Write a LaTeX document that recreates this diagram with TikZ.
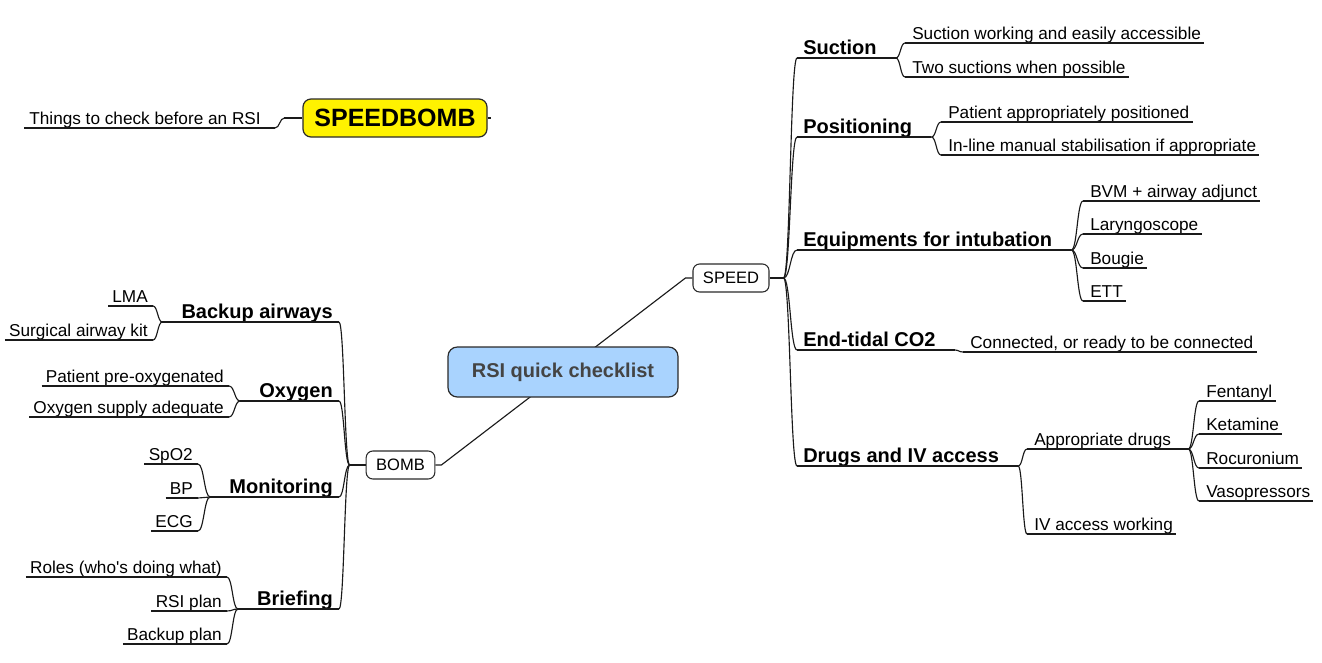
\documentclass[tikz,border=0pt]{standalone}
\usepackage{fontspec}
\setmainfont{Liberation Sans}
\usetikzlibrary{calc,backgrounds}
\definecolor{rootblue}{HTML}{A9D3FE}
\definecolor{roottext}{HTML}{444444}
\definecolor{edgecol}{HTML}{1A1A1A}
\definecolor{boxborder}{HTML}{2A2A2A}
\tikzset{
 lf/.style={font=\fontsize{12.9}{15}\selectfont, inner sep=0pt, anchor=base west},
 lfl/.style={lf, anchor=base east},
 bf/.style={font=\fontsize{15}{18}\selectfont\bfseries, inner sep=0pt, anchor=base west},
 bfl/.style={bf, anchor=base east},
 edge/.style={draw=edgecol, line width=0.85pt},
 box/.style={draw=boxborder, line width=0.8pt, rounded corners=5pt, fill=white,
   font=\fontsize{12.4}{15}\selectfont, minimum height=21pt, inner xsep=7.5pt, inner ysep=0pt},
 rootbox/.style={draw=boxborder, line width=0.9pt, rounded corners=7pt, fill=rootblue,
   text=roottext, font=\fontsize{15}{18}\selectfont\bfseries, minimum width=172.5pt, minimum height=37.5pt},
 sbbox/.style={draw=boxborder, line width=0.9pt, rounded corners=6pt, fill=yellow,
   font=\fontsize{18.75}{22}\selectfont\bfseries, minimum width=138pt, minimum height=28.5pt},
}
% underline of a node: name, pad on the left, pad on the right
\newcommand\ul[3]{%
 \coordinate (#1-l) at ($(#1.base west)+(-#2,4)$);
 \coordinate (#1-r) at ($(#1.base east)+(#3,4)$);
 \draw[edge] (#1-l) -- (#1-r);}
% curved connector between two points
\newcommand\cn[2]{\draw[edge] let \p1=(#1), \p2=(#2) in
  (\p1) .. controls ({0.5*\x1+0.5*\x2},\y1) and ({0.5*\x1+0.5*\x2},\y2) .. (\p2);}
\begin{document}
\begin{tikzpicture}[x=0.75pt,y=-0.75pt]
\useasboundingbox (0,0) rectangle (1322,662);
% central and top nodes
\node[rootbox] (root) at (563,372) {RSI quick checklist};
\node[sbbox] (sb) at (395,118) {SPEEDBOMB};
\node[lfl] (things) at (261,124) {Things to check before an RSI};
% SPEED side
\node[box] (speed) at (731,278) {SPEED};
\node[bf] (suction) at (803,54) {Suction};
\node[bf] (pos) at (803,133) {Positioning};
\node[bf] (equip) at (803,246) {Equipments for intubation};
\node[bf] (etc) at (803,346) {End-tidal CO2};
\node[bf] (drugs) at (803,462) {Drugs and IV access};
\node[lf] (s1) at (912,39) {Suction working and easily accessible};
\node[lf] (s2) at (912,73) {Two suctions when possible};
\node[lf] (p1) at (948,118) {Patient appropriately positioned};
\node[lf] (p2) at (948,151) {In-line manual stabilisation if appropriate};
\node[lf] (e1) at (1090,197) {BVM + airway adjunct};
\node[lf] (e2) at (1090,230) {Laryngoscope};
\node[lf] (e3) at (1090,264) {Bougie};
\node[lf] (e4) at (1090,297) {ETT};
\node[lf] (c1) at (970,348) {Connected, or ready to be connected};
\node[lf] (d1) at (1034,445) {Appropriate drugs};
\node[lf] (d2) at (1034,530) {IV access working};
\node[lf] (f1) at (1206,397) {Fentanyl};
\node[lf] (f2) at (1206,430) {Ketamine};
\node[lf] (f3) at (1206,464) {Rocuronium};
\node[lf] (f4) at (1206,497) {Vasopressors};
% BOMB side
\node[box] (bomb) at (400.5,465) {BOMB};
\node[bfl] (backup) at (333,318) {Backup airways};
\node[bfl] (oxy) at (333,397) {Oxygen};
\node[bfl] (mon) at (333,493) {Monitoring};
\node[bfl] (brief) at (333,605) {Briefing};
\node[lfl] (b1) at (148,302) {LMA};
\node[lfl] (b2) at (148,336) {Surgical airway kit};
\node[lfl] (o1) at (224,382) {Patient pre-oxygenated};
\node[lfl] (o2) at (224,413) {Oxygen supply adequate};
\node[lfl] (m1) at (193,460) {SpO2};
\node[lfl] (m2) at (193,494) {BP};
\node[lfl] (m3) at (193,527) {ECG};
\node[lfl] (r1) at (222,573) {Roles (who\textquotesingle s doing what)};
\node[lfl] (r2) at (222,607) {RSI plan};
\node[lfl] (r3) at (222,640) {Backup plan};
% underlines
\ul{things}{5}{14}
\ul{suction}{6}{19} \ul{pos}{6}{19} \ul{equip}{6}{19} \ul{etc}{6}{19} \ul{drugs}{6}{19}
\ul{s1}{7}{3} \ul{s2}{7}{3} \ul{p1}{7}{3} \ul{p2}{7}{3}
\ul{e1}{7}{3} \ul{e2}{7}{3} \ul{e3}{7}{3} \ul{e4}{7}{3}
\ul{c1}{7}{3} \ul{d1}{7}{17} \ul{d2}{7}{3}
\ul{f1}{7}{3} \ul{f2}{7}{3} \ul{f3}{7}{3} \ul{f4}{7}{3}
\ul{backup}{19}{6} \ul{oxy}{19}{6} \ul{mon}{19}{6} \ul{brief}{19}{6}
\ul{b1}{4}{5} \ul{b2}{4}{5} \ul{o1}{4}{5} \ul{o2}{4}{5}
\ul{m1}{4}{5} \ul{m2}{4}{5} \ul{m3}{4}{5}
\ul{r1}{4}{5} \ul{r2}{4}{5} \ul{r3}{4}{5}
% connectors
\begin{scope}[on background layer]
\draw[edge] (bomb.east) -- ++(6,0) -- ($(speed.west)+(-7,0)$) -- (speed.west);
\end{scope}
\draw[edge] (sb.west) -- ++(-18,0) coordinate (tf);
\cn{tf}{things-r}
\draw[edge] (sb.east) -- ++(3,0);
\draw[edge] (speed.east) -- ++(14,0) coordinate (sf);
\cn{sf}{suction-l} \cn{sf}{pos-l} \cn{sf}{equip-l} \cn{sf}{etc-l} \cn{sf}{drugs-l}
\cn{suction-r}{s1-l} \cn{suction-r}{s2-l}
\cn{pos-r}{p1-l} \cn{pos-r}{p2-l}
\cn{equip-r}{e1-l} \cn{equip-r}{e2-l} \cn{equip-r}{e3-l} \cn{equip-r}{e4-l}
\cn{etc-r}{c1-l}
\cn{drugs-r}{d1-l} \cn{drugs-r}{d2-l}
\cn{d1-r}{f1-l} \cn{d1-r}{f2-l} \cn{d1-r}{f3-l} \cn{d1-r}{f4-l}
\draw[edge] (bomb.west) -- ++(-16,0) coordinate (bfk);
\cn{bfk}{backup-r} \cn{bfk}{oxy-r} \cn{bfk}{mon-r} \cn{bfk}{brief-r}
\cn{backup-l}{b1-r} \cn{backup-l}{b2-r}
\cn{oxy-l}{o1-r} \cn{oxy-l}{o2-r}
\cn{mon-l}{m1-r} \cn{mon-l}{m2-r} \cn{mon-l}{m3-r}
\cn{brief-l}{r1-r} \cn{brief-l}{r2-r} \cn{brief-l}{r3-r}
\end{tikzpicture}
\end{document}
